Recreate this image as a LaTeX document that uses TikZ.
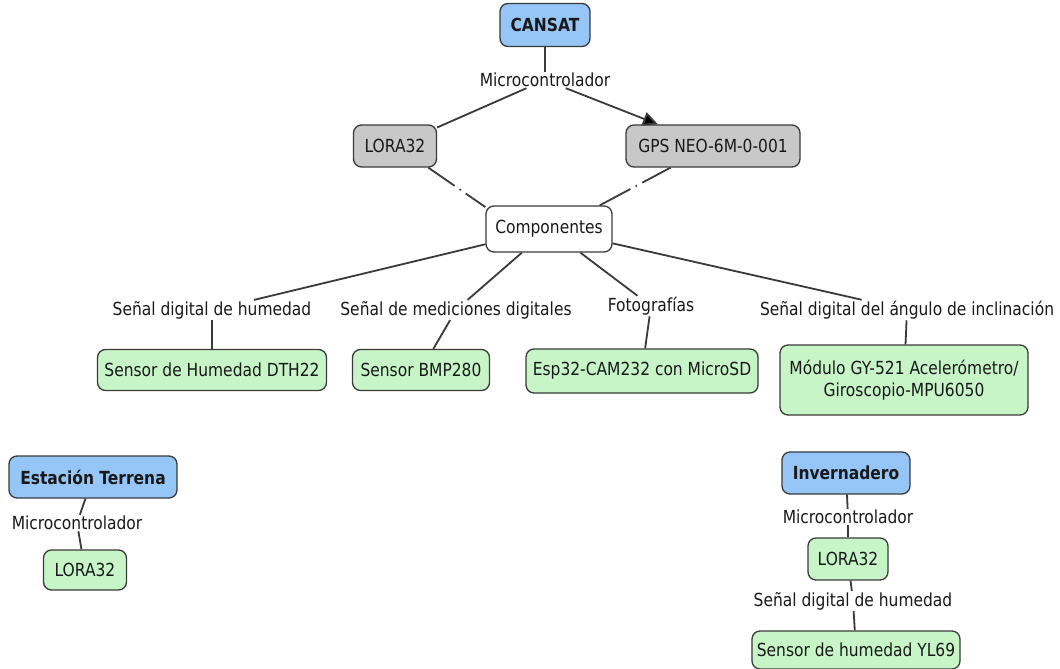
\documentclass[tikz,border=0pt]{standalone}
\usepackage{fontspec}
\setmainfont{DejaVu Sans}[FakeStretch=0.86]
\usetikzlibrary{arrows.meta}
\definecolor{tblue}{HTML}{95C6F7}
\definecolor{tgray}{HTML}{C8C8C8}
\definecolor{tgreen}{HTML}{C8F5C8}
\definecolor{tline}{HTML}{3A3A3A}
\begin{document}
\begin{tikzpicture}[x=1pt,y=-1pt,
  box/.style={draw=tline, line width=1.3pt, rounded corners=8pt, inner sep=0pt,
    font=\fontsize{18}{22}\selectfont, align=center, text=black!90},
  title/.style={box, fill=tblue, font=\fontsize{18}{22}\selectfont\bfseries},
  graybox/.style={box, fill=tgray},
  greenbox/.style={box, fill=tgreen},
  whitebox/.style={box, fill=white},
  lbl/.style={inner sep=1pt, font=\fontsize{18}{22}\selectfont, text=black!90},
  conn/.style={draw=tline, line width=1.8pt},
  dashdot/.style={conn, dash pattern=on 32pt off 6pt on 1.5pt off 6pt on 60pt off 0pt},
  arr/.style={conn, -{Triangle[length=15pt,width=14pt,fill=black]}}
]
\fill[white] (0,0) rectangle (1060,669);
\useasboundingbox (0,0) rectangle (1060,669);

% CANSAT
\node[title, minimum width=90pt, minimum height=43pt] (cansat) at (545,25) {CANSAT};
\node[lbl] (mc1) at (545,80) {Microcontrolador};
\node[graybox, minimum width=83pt, minimum height=42pt] (lora) at (395,146) {LORA32};
\node[graybox, minimum width=174pt, minimum height=42pt] (gps) at (713,146) {GPS NEO-6M-0-001};
\node[whitebox, minimum width=126pt, minimum height=46pt] (comp) at (549,229) {Componentes};

\node[lbl] (l1) at (212,310) {Señal digital de humedad};
\node[lbl] (l2) at (456,310) {Señal de mediciones digitales};
\node[lbl] (l3) at (651,306) {Fotografías};
\node[lbl] (l4) at (907,310) {Señal digital del ángulo de inclinación};

\node[greenbox, minimum width=229pt, minimum height=41pt] (s1) at (212,370) {Sensor de Humedad DTH22};
\node[greenbox, minimum width=137pt, minimum height=41pt] (s2) at (421,370) {Sensor BMP280};
\node[greenbox, minimum width=232pt, minimum height=44pt] (s3) at (642,371) {Esp32-CAM232 con MicroSD};
\node[greenbox, minimum width=248pt, minimum height=70pt] (s4) at (904,380) {Módulo GY-521 Acelerómetro/\\Giroscopio-MPU6050};

% Estacion Terrena
\node[title, minimum width=168pt, minimum height=42pt] (et) at (93,477) {Estación Terrena};
\node[lbl] (mc2) at (77,523) {Microcontrolador};
\node[greenbox, minimum width=83pt, minimum height=40pt] (lora2) at (85,570) {LORA32};

% Invernadero
\node[title, minimum width=128pt, minimum height=42pt] (inv) at (846,473) {Invernadero};
\node[lbl] (mc3) at (848,517) {Microcontrolador};
\node[greenbox, minimum width=80pt, minimum height=42pt] (lora3) at (848,559) {LORA32};
\node[lbl] (l5) at (853,601) {Señal digital de humedad};
\node[greenbox, minimum width=208pt, minimum height=38pt] (s5) at (856,650) {Sensor de humedad YL69};

% connectors
\draw[conn] (cansat) -- (mc1);
\draw[conn] (mc1) -- (lora);
\draw[arr] (mc1) -- (gps);
\draw[dashdot] (lora.-33) -- (comp.161);
\draw[dashdot] (gps.207) -- (comp.25);
\draw[conn] (comp) -- (l1);
\draw[conn] (comp) -- (l2);
\draw[conn] (comp) -- (l3);
\draw[conn] (comp) -- (l4);
\draw[conn] (l1) -- (s1);
\draw[conn] (l2) -- (s2);
\draw[conn] (l3) -- (s3);
\draw[conn] (l4) -- (s4);
\draw[conn] (et) -- (mc2);
\draw[conn] (mc2) -- (lora2);
\draw[conn] (inv) -- (mc3);
\draw[conn] (mc3) -- (lora3);
\draw[conn] (lora3) -- (l5);
\draw[conn] (l5) -- (s5);
\end{tikzpicture}
\end{document}
